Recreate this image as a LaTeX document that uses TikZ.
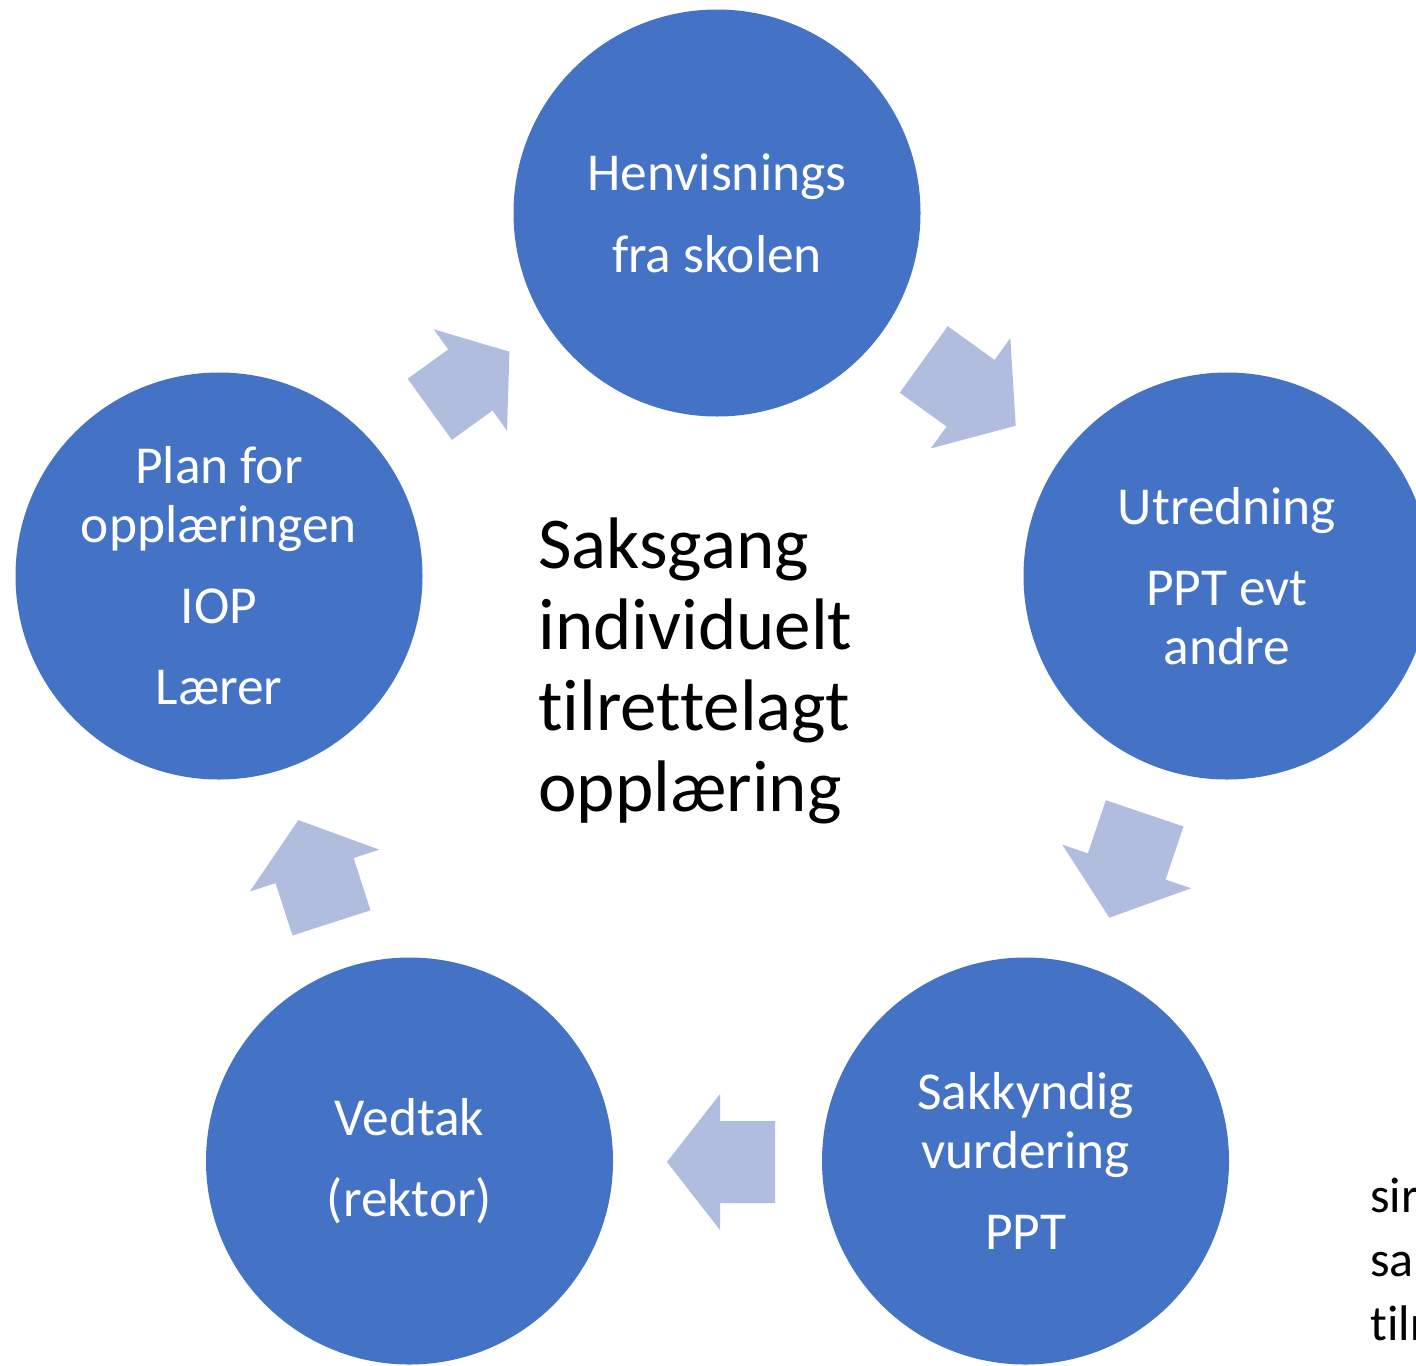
\documentclass[tikz,border=0pt]{standalone}
\usepackage{fontspec}
\setmainfont{Carlito}[Ligatures=NoCommon]
\definecolor{circblue}{HTML}{4472C4}
\definecolor{arrowblue}{HTML}{B0BDDF}
\newcommand{\sgArrow}[5]{% x y angle xscale yscale
  \fill[arrowfill, shift={(#1,-#2)}, rotate=#3, xscale=#4, yscale=#5]
    (-54,-41) -- (1,-41) -- (1,-68) -- (54,0) -- (1,68) -- (1,41) -- (-54,41) -- cycle;}
\begin{document}
\begin{tikzpicture}[x=0.5pt, y=0.5pt,
  stage/.style={circle, fill=circblue, draw=none, minimum size=203.5pt, inner sep=0pt,
    text=white, align=center, font=\fontsize{26.7}{29.5}\selectfont},
  arrowfill/.style={fill=arrowblue},
  title/.style={align=left, inner sep=0pt, anchor=west, text=black,
    font=\fontsize{36.5}{40.5}\selectfont},
  sidetext/.style={align=left, inner sep=0pt, anchor=west, text=black,
    font=\fontsize{25}{32}\selectfont}]
\useasboundingbox (0,0) rectangle (1416,-1365);
\clip (0,0) rectangle (1416,-1365);
\fill[white] (0,0) rectangle (1416,-1365);

% arrows
\sgArrow{969.7}{392.6}{-35.8}{1.05}{1}
\sgArrow{1127}{865.5}{-108.7}{1.02}{1}
\sgArrow{721}{1162}{180}{1}{1}
\sgArrow{314.9}{871.5}{107.9}{1}{1}
\sgArrow{469.6}{380.5}{35.9}{0.91}{0.92}

% stages
\node[stage] (henv) at (717,-213) {Henvisnings\\[11.5pt]fra skolen};
\node[stage] (utr) at (1227,-576) {Utredning\\[11pt]PPT evt\\andre};
\node[stage] (sakk) at (1025.5,-1161) {Sakkyndig\\vurdering\\[11pt]PPT};
\node[stage] (vedt) at (409.5,-1161) {Vedtak\\[11pt](rektor)};
\node[stage] (plan) at (219,-576) {Plan for\\opplæringen\\[11pt]IOP\\[11pt]Lærer};

% centre title
\node[title] (tittel) at (538,-671) {Saksgang\\individuelt\\tilrettelagt\\opplæring};

% clipped side text
\node[sidetext] (side) at (1370,-1259) {sir\\sa\\tilr};
\end{tikzpicture}
\end{document}
